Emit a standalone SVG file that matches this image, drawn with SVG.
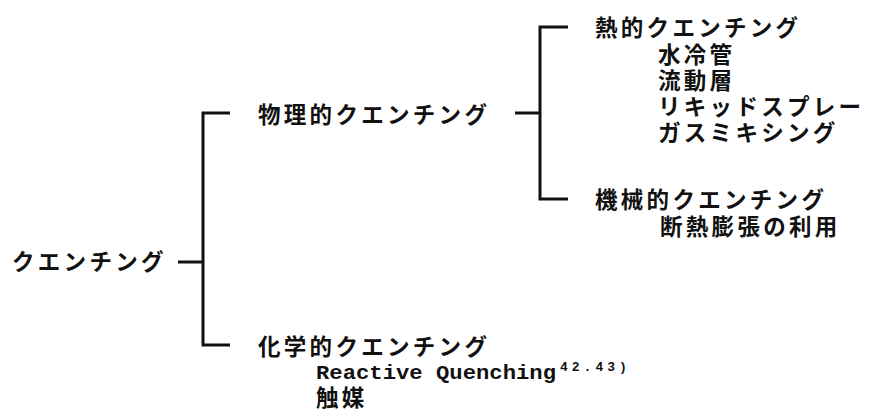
<svg xmlns="http://www.w3.org/2000/svg" width="869" height="416" viewBox="0 0 869 416">
<style>
.j{font-family:"Liberation Sans","Noto Sans CJK JP",sans-serif;font-size:22.5px;font-weight:700;letter-spacing:3.3px;fill:#111}
.m{font-family:"Liberation Mono",monospace;font-size:21px;font-weight:700;fill:#111}
.s{font-family:"Liberation Mono",monospace;font-size:13px;font-weight:700;letter-spacing:4px;fill:#111}
.c{stroke:#111;stroke-width:3;fill:none}
</style>
<rect width="869" height="416" fill="#fff"/>
<g id="connectors" class="c">
<path d="M178 262H203M230 113H203V345H230"/>
<path d="M515 113H540M568 27H540V199H568"/>
</g>
<g id="root"><text class="j" x="12" y="270">クエンチング</text></g>
<g id="physical"><text class="j" x="258" y="123">物理的クエンチング</text></g>
<g id="thermal">
<text class="j" x="595" y="36">熱的クエンチング</text>
<text class="j" x="658" y="63">水冷管</text>
<text class="j" x="658" y="89">流動層</text>
<text class="j" x="658" y="115">リキッドスプレー</text>
<text class="j" x="658" y="141">ガスミキシング</text>
</g>
<g id="mechanical">
<text class="j" x="595" y="208">機械的クエンチング</text>
<text class="j" x="660" y="235">断熱膨張の利用</text>
</g>
<g id="chemical">
<text class="j" x="258" y="355">化学的クエンチング</text>
<text class="m" x="316" y="379" textLength="240" lengthAdjust="spacingAndGlyphs">Reactive Quenching</text>
<text class="s" x="560" y="371">42.43)</text>
<text class="j" x="316" y="406">触媒</text>
</g>
</svg>
